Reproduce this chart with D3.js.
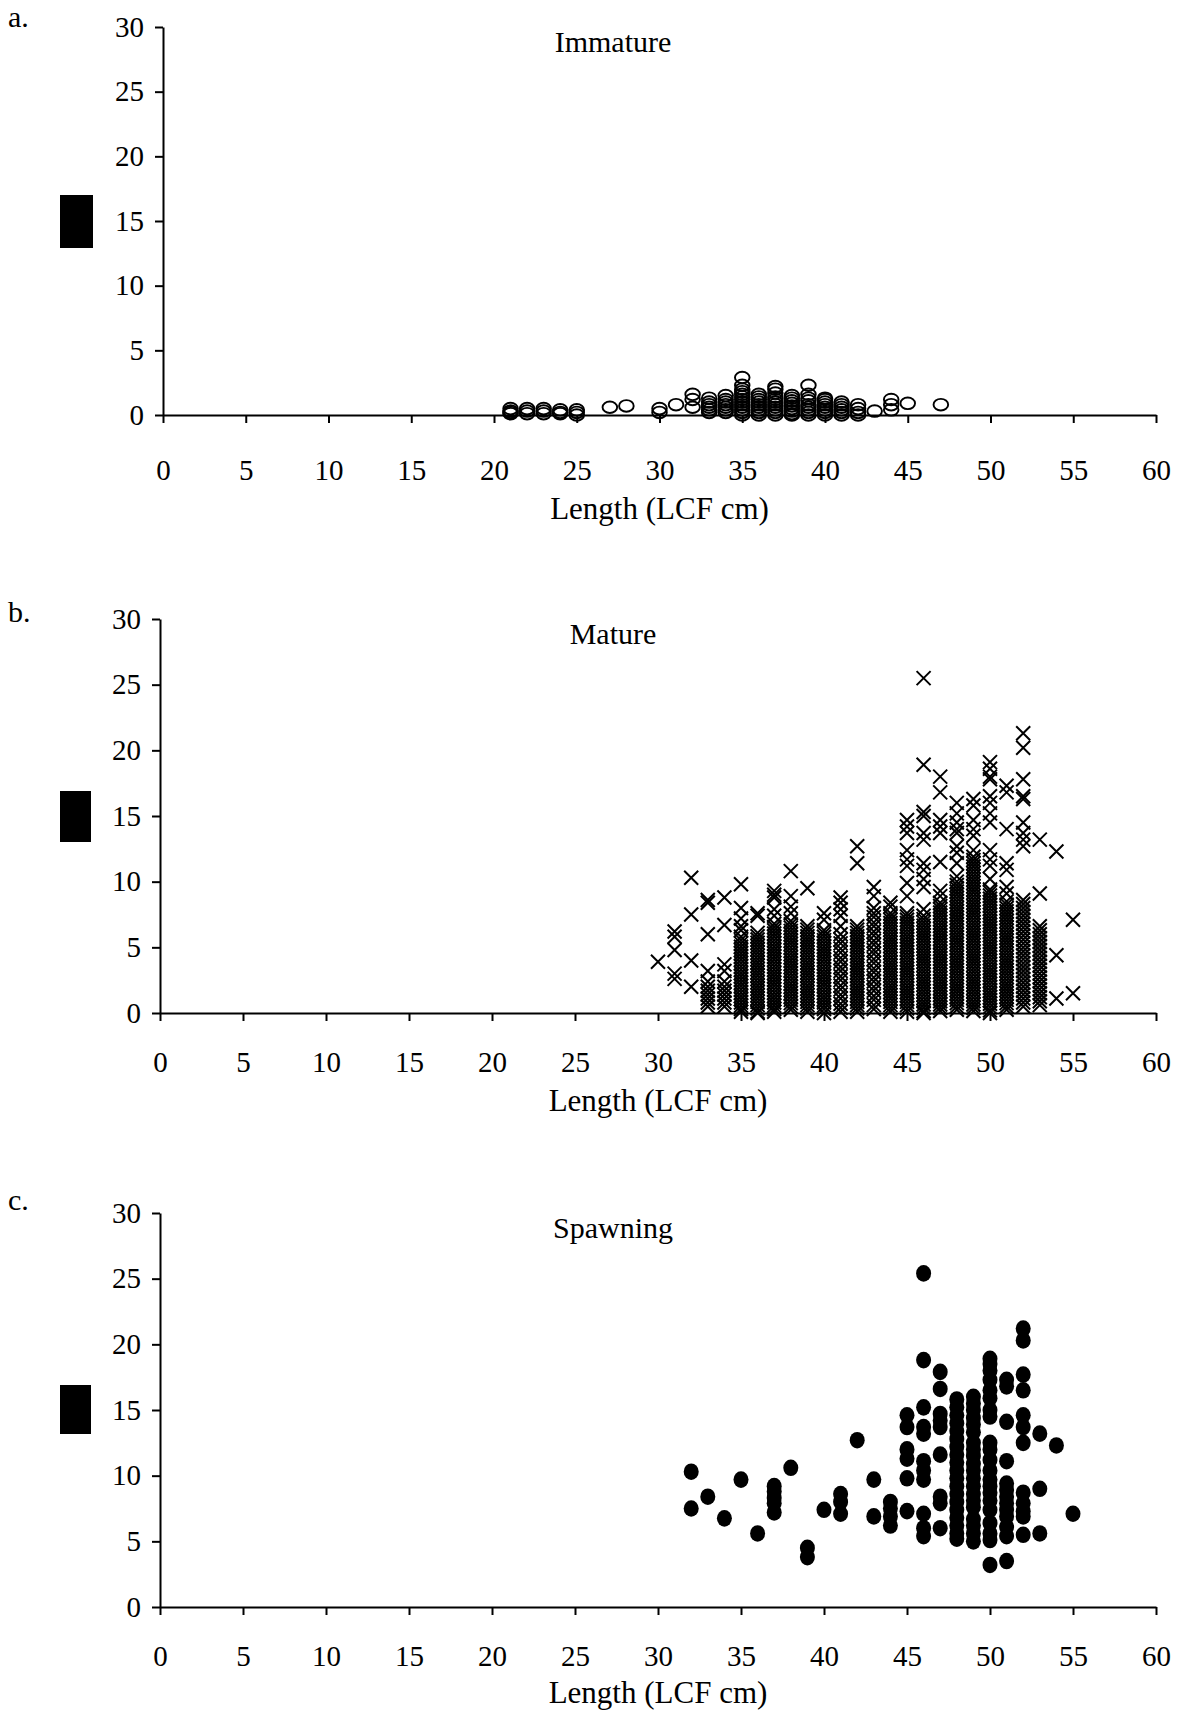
<!DOCTYPE html>
<html>
<head>
<meta charset="utf-8">
<script src="https://cdn.jsdelivr.net/npm/d3@7"></script>
<style>
  html, body { margin: 0; padding: 0; background: #fff; }
  svg { display: block; }
  text { font-family: "Liberation Serif", "Times New Roman", serif; fill: #000; }
</style>
</head>
<body>
<svg id="chart" width="1183" height="1715"></svg>
<script>
// ---------- data ----------
const xTicks = [0, 5, 10, 15, 20, 25, 30, 35, 40, 45, 50, 55, 60];
const yTicks = [0, 5, 10, 15, 20, 25, 30];
const panelLetters = ["a.", "b.", "c."];
const panelTitles = ["Immature", "Mature", "Spawning"];
const xAxisTitle = "Length (LCF cm)";

// Immature (open circles)
const immatureLengths = [21, 22, 23, 24, 25, 27, 28, 30, 31, 32, 33, 34, 35, 36, 37, 38, 39, 40, 41, 42, 43, 44, 45, 47];
const immatureValues = [
  [0.5, 0.3, 0.2, 0.1],
  [0.5, 0.3, 0.1],
  [0.5, 0.3, 0.1],
  [0.4, 0.2, 0.1],
  [0.4, 0.2, 0.0],
  [0.6],
  [0.7],
  [0.5, 0.2],
  [0.8],
  [1.6, 1.2, 0.6],
  [1.3, 1.0, 0.8, 0.6, 0.4, 0.2],
  [1.5, 1.2, 1.0, 0.8, 0.6, 0.4, 0.2],
  [2.9, 2.3, 2.0, 1.8, 1.6, 1.4, 1.2, 1.0, 0.8, 0.6, 0.4, 0.2, 0.0],
  [1.6, 1.4, 1.2, 1.0, 0.8, 0.6, 0.4, 0.2, 0.0],
  [2.2, 2.0, 1.7, 1.4, 1.2, 1.0, 0.8, 0.6, 0.4, 0.2, 0.0],
  [1.5, 1.3, 1.1, 0.9, 0.7, 0.5, 0.3, 0.1, 0.0],
  [2.3, 1.6, 1.3, 1.1, 0.8, 0.6, 0.4, 0.2, 0.0],
  [1.3, 1.2, 1.0, 0.8, 0.6, 0.4, 0.2, 0.0],
  [1.0, 0.8, 0.6, 0.4, 0.2, 0.0],
  [0.8, 0.5, 0.2, 0.0],
  [0.3],
  [1.2, 0.8, 0.4],
  [0.9],
  [0.8]
];

// Mature (crosses)
const matureLengths = [30, 31, 32, 33, 34, 35, 36, 37, 38, 39, 40, 41, 42, 43, 44, 45, 46, 47, 48, 49, 50, 51, 52, 53, 54, 55];
const matureValues = [
  [3.9],
  [6.2, 5.8, 4.8, 3.0, 2.6],
  [10.3, 7.5, 4.0, 2.0],
  [8.6, 8.4, 6.0, 3.2, 2.4, 2.0, 1.7, 1.4, 1.1, 0.8, 0.5],
  [8.8, 6.7, 3.7, 3.2, 2.4, 2.0, 1.7, 1.4, 1.1, 0.8, 0.5],
  [9.8, 8.0, 7.2, 6.6, 6.3, 5.8, 5.55, 5.3, 5.05, 4.8, 4.55, 4.3, 4.05, 3.8, 3.55, 3.3, 3.05, 2.8, 2.55, 2.3, 2.05, 1.8, 1.55, 1.3, 1.05, 0.8, 0.55, 0.3, 0.1],
  [7.6, 7.4, 6.1, 5.85, 5.6, 5.35, 5.1, 4.85, 4.6, 4.35, 4.1, 3.85, 3.6, 3.35, 3.1, 2.85, 2.6, 2.35, 2.1, 1.85, 1.6, 1.35, 1.1, 0.85, 0.6, 0.35, 0.1, 0.0],
  [9.3, 9.0, 8.8, 7.9, 7.4, 6.8, 6.55, 6.3, 6.05, 5.8, 5.55, 5.3, 5.05, 4.8, 4.55, 4.3, 4.05, 3.8, 3.55, 3.3, 3.05, 2.8, 2.55, 2.3, 2.05, 1.8, 1.55, 1.3, 1.05, 0.8, 0.55, 0.3, 0.1],
  [10.8, 8.9, 8.1, 7.6, 7.0, 6.75, 6.5, 6.25, 6.0, 5.75, 5.5, 5.25, 5.0, 4.75, 4.5, 4.25, 4.0, 3.75, 3.5, 3.25, 3.0, 2.75, 2.5, 2.25, 2.0, 1.75, 1.5, 1.25, 1.0, 0.75, 0.5, 0.25],
  [9.5, 6.6, 6.35, 6.1, 5.85, 5.6, 5.35, 5.1, 4.85, 4.6, 4.35, 4.1, 3.85, 3.6, 3.35, 3.1, 2.85, 2.6, 2.35, 2.1, 1.85, 1.6, 1.35, 1.1, 0.85, 0.6, 0.35, 0.1],
  [7.6, 7.1, 6.3, 6.05, 5.8, 5.55, 5.3, 5.05, 4.8, 4.55, 4.3, 4.05, 3.8, 3.55, 3.3, 3.05, 2.8, 2.55, 2.3, 2.05, 1.8, 1.55, 1.3, 1.05, 0.8, 0.55, 0.3, 0.0],
  [8.8, 8.4, 7.9, 7.4, 6.6, 6.0, 5.6, 5.3, 4.9, 4.6, 4.2, 3.9, 3.5, 3.2, 2.8, 2.5, 2.1, 1.8, 1.4, 1.1, 0.7, 0.4, 0.1],
  [12.7, 11.4, 6.6, 6.35, 6.1, 5.85, 5.6, 5.35, 5.1, 4.85, 4.6, 4.35, 4.1, 3.85, 3.6, 3.35, 3.1, 2.85, 2.6, 2.35, 2.1, 1.85, 1.6, 1.35, 1.1, 0.85, 0.6, 0.35, 0.1],
  [9.6, 8.9, 8.0, 7.6, 7.3, 6.9, 6.6, 6.2, 5.9, 5.5, 5.2, 4.8, 4.5, 4.1, 3.8, 3.4, 3.1, 2.7, 2.4, 2.0, 1.7, 1.3, 1.0, 0.6, 0.3],
  [8.4, 8.1, 7.6, 7.35, 7.1, 6.85, 6.6, 6.35, 6.1, 5.85, 5.6, 5.35, 5.1, 4.85, 4.6, 4.35, 4.1, 3.85, 3.6, 3.35, 3.1, 2.85, 2.6, 2.35, 2.1, 1.85, 1.6, 1.35, 1.1, 0.85, 0.6, 0.35, 0.1],
  [14.7, 14.2, 13.7, 12.4, 11.7, 11.2, 9.9, 8.9, 7.6, 7.35, 7.1, 6.85, 6.6, 6.35, 6.1, 5.85, 5.6, 5.35, 5.1, 4.85, 4.6, 4.35, 4.1, 3.85, 3.6, 3.35, 3.1, 2.85, 2.6, 2.35, 2.1, 1.85, 1.6, 1.35, 1.1, 0.85, 0.6, 0.35, 0.1],
  [25.5, 18.9, 15.3, 15.0, 13.7, 13.2, 11.4, 10.9, 10.2, 9.6, 7.9, 7.4, 7.15, 6.9, 6.65, 6.4, 6.15, 5.9, 5.65, 5.4, 5.15, 4.9, 4.65, 4.4, 4.15, 3.9, 3.65, 3.4, 3.15, 2.9, 2.65, 2.4, 2.15, 1.9, 1.65, 1.4, 1.15, 0.9, 0.65, 0.4, 0.15, 0.0],
  [18.0, 16.8, 14.7, 14.2, 13.7, 11.5, 9.3, 8.9, 8.4, 8.15, 7.9, 7.65, 7.4, 7.15, 6.9, 6.65, 6.4, 6.15, 5.9, 5.65, 5.4, 5.15, 4.9, 4.65, 4.4, 4.15, 3.9, 3.65, 3.4, 3.15, 2.9, 2.65, 2.4, 2.15, 1.9, 1.65, 1.4, 1.15, 0.9, 0.65, 0.4, 0.15],
  [16.0, 15.2, 14.5, 14.0, 13.7, 12.7, 12.2, 11.4, 10.4, 10.0, 9.75, 9.5, 9.25, 9.0, 8.75, 8.5, 8.25, 8.0, 7.75, 7.5, 7.25, 7.0, 6.75, 6.5, 6.25, 6.0, 5.75, 5.5, 5.25, 5.0, 4.75, 4.5, 4.25, 4.0, 3.75, 3.5, 3.25, 3.0, 2.75, 2.5, 2.25, 2.0, 1.75, 1.5, 1.25, 1.0, 0.75, 0.5, 0.25],
  [16.3, 15.8, 14.7, 14.0, 13.5, 12.4, 11.9, 11.65, 11.4, 11.15, 10.9, 10.65, 10.4, 10.15, 9.9, 9.65, 9.4, 9.15, 8.9, 8.65, 8.4, 8.15, 7.9, 7.65, 7.4, 7.15, 6.9, 6.65, 6.4, 6.15, 5.9, 5.65, 5.4, 5.15, 4.9, 4.65, 4.4, 4.15, 3.9, 3.65, 3.4, 3.15, 2.9, 2.65, 2.4, 2.15, 1.9, 1.65, 1.4, 1.15, 0.9, 0.65, 0.4, 0.15],
  [19.1, 18.6, 18.0, 17.8, 16.5, 16.0, 15.2, 14.5, 12.4, 11.7, 11.2, 10.2, 9.4, 9.2, 8.95, 8.7, 8.45, 8.2, 7.95, 7.7, 7.45, 7.2, 6.95, 6.7, 6.45, 6.2, 5.95, 5.7, 5.45, 5.2, 4.95, 4.7, 4.45, 4.2, 3.95, 3.7, 3.45, 3.2, 2.95, 2.7, 2.45, 2.2, 1.95, 1.7, 1.45, 1.2, 0.95, 0.7, 0.45, 0.2, 0.0],
  [17.3, 16.8, 14.0, 11.4, 10.9, 9.6, 9.1, 8.5, 8.25, 8.0, 7.75, 7.5, 7.25, 7.0, 6.75, 6.5, 6.25, 6.0, 5.75, 5.5, 5.25, 5.0, 4.75, 4.5, 4.25, 4.0, 3.75, 3.5, 3.25, 3.0, 2.75, 2.5, 2.25, 2.0, 1.75, 1.5, 1.25, 1.0, 0.75, 0.5, 0.25],
  [21.3, 20.2, 17.8, 16.5, 16.3, 14.5, 13.7, 13.2, 12.7, 8.6, 8.3, 8.0, 7.7, 7.4, 7.1, 6.8, 6.5, 6.2, 5.9, 5.6, 5.3, 5.0, 4.7, 4.4, 4.1, 3.8, 3.5, 3.2, 2.9, 2.6, 2.3, 2.0, 1.7, 1.4, 1.1, 0.8, 0.5],
  [13.2, 9.1, 6.6, 6.3, 6.0, 5.7, 5.4, 5.1, 4.8, 4.5, 4.2, 3.9, 3.6, 3.3, 3.0, 2.7, 2.4, 2.1, 1.8, 1.5, 1.2, 0.9, 0.6],
  [12.3, 4.4, 1.1],
  [7.1, 1.5]
];

// Spawning (filled dots)
const spawningLengths = [32, 33, 34, 35, 36, 37, 38, 39, 40, 41, 42, 43, 44, 45, 46, 47, 48, 49, 50, 51, 52, 53, 54, 55];
const spawningValues = [
  [10.3, 7.5],
  [8.4],
  [6.75],
  [9.7],
  [5.6],
  [9.2, 8.8, 8.3, 7.9, 7.2],
  [10.6],
  [4.5, 3.8],
  [7.4],
  [8.6, 8.0, 7.1],
  [12.7],
  [9.7, 6.9],
  [8.0, 7.5, 6.9, 6.2],
  [14.6, 13.7, 12.0, 11.3, 9.8, 7.3],
  [25.4, 18.8, 15.2, 13.7, 13.2, 11.1, 10.4, 9.7, 7.1, 6.0, 5.4],
  [17.9, 16.6, 14.7, 14.2, 13.7, 11.6, 8.4, 7.9, 6.0],
  [15.8, 15.2, 14.6, 14.0, 13.4, 12.8, 12.2, 11.6, 11.0, 10.4, 9.8, 9.2, 8.6, 8.0, 7.4, 6.8, 6.2, 5.6, 5.2],
  [16.0, 15.5, 15.0, 14.4, 13.9, 13.3, 12.5, 12.0, 11.5, 10.9, 10.4, 9.8, 9.2, 8.6, 8.1, 7.6, 6.7, 6.2, 5.6, 5.0],
  [18.9, 18.5, 18.0, 17.3, 16.5, 15.9, 15.0, 14.5, 12.5, 12.0, 11.2, 10.4, 9.7, 9.2, 8.7, 8.1, 7.4, 6.4, 5.6, 5.1, 3.2],
  [17.3, 16.8, 14.1, 11.1, 9.4, 8.9, 8.4, 7.9, 7.4, 6.9, 6.1, 5.4, 3.5],
  [21.2, 20.3, 17.7, 16.5, 14.6, 13.7, 12.5, 8.7, 7.9, 7.3, 6.9, 5.5],
  [13.2, 9.0, 5.6],
  [12.3],
  [7.1]
];

// ---------- layout ----------
const panels = [
  { lengths: immatureLengths, values: immatureValues, kind: "circle",
    x0: 163, x1: 1156, yBottom: 415, yTop: 27,
    letterY: 27, titleY: 52, tickLabelY: 64, axisTitleY: 519,
    rect: [60, 195, 33, 53] },
  { lengths: matureLengths, values: matureValues, kind: "cross",
    x0: 160, x1: 1156, yBottom: 1013, yTop: 619,
    letterY: 622, titleY: 644, tickLabelY: 58, axisTitleY: 1111,
    rect: [60, 791, 31, 51] },
  { lengths: spawningLengths, values: spawningValues, kind: "dot",
    x0: 160, x1: 1156, yBottom: 1607, yTop: 1213,
    letterY: 1210, titleY: 1238, tickLabelY: 58, axisTitleY: 1703,
    rect: [60, 1385, 31, 49] }
];

const svg = d3.select("#chart");

panels.forEach((p, i) => {
  const x = d3.scaleLinear().domain([0, 60]).range([p.x0, p.x1]);
  const y = d3.scaleLinear().domain([0, 30]).range([p.yBottom, p.yTop]);
  const g = svg.append("g");

  // panel letter
  g.append("text").attr("x", 8).attr("y", p.letterY)
    .attr("font-size", 30).text(panelLetters[i]);

  // redaction block (y-axis title area)
  g.append("rect").attr("x", p.rect[0]).attr("y", p.rect[1])
    .attr("width", p.rect[2]).attr("height", p.rect[3]).attr("fill", "#000");

  // panel title
  g.append("text").attr("x", 613).attr("y", p.titleY)
    .attr("text-anchor", "middle").attr("font-size", 30).text(panelTitles[i]);

  // axes
  const yAxis = d3.axisLeft(y).tickValues(yTicks).tickFormat(d3.format("d"))
    .tickSize(8).tickSizeOuter(0).tickPadding(11);
  const ya = g.append("g").attr("transform", `translate(${p.x0},0)`).call(yAxis);
  ya.selectAll("text").attr("font-size", 29).style("font-family", "Liberation Serif");

  const xAxis = d3.axisBottom(x).tickValues(xTicks).tickFormat(d3.format("d"))
    .tickSize(8).tickSizeOuter(0).tickPadding(p.tickLabelY - 8 - 20);
  const xa = g.append("g").attr("transform", `translate(0,${p.yBottom})`).call(xAxis);
  xa.selectAll("text").attr("font-size", 29).style("font-family", "Liberation Serif");

  [ya, xa].forEach(a => {
    a.select(".domain").attr("stroke", "#000").attr("stroke-width", 2);
    a.selectAll(".tick line").attr("stroke", "#000").attr("stroke-width", 2);
  });

  // x-axis title
  g.append("text").attr("x", (p.x0 + p.x1) / 2).attr("y", p.axisTitleY)
    .attr("text-anchor", "middle").attr("font-size", 31).text(xAxisTitle);

  // points
  const pts = p.lengths.flatMap((L, k) => p.values[k].map(v => ({ x: L, y: v })));
  const mg = g.append("g");
  if (p.kind === "circle") {
    mg.selectAll("ellipse").data(pts).join("ellipse")
      .attr("cx", d => x(d.x)).attr("cy", d => y(d.y))
      .attr("rx", 7.3).attr("ry", 5.8)
      .attr("fill", "none").attr("stroke", "#000").attr("stroke-width", 1.9);
  } else if (p.kind === "cross") {
    mg.selectAll("path").data(pts).join("path")
      .attr("transform", d => `translate(${x(d.x)},${y(d.y)})`)
      .attr("d", "M-7,-7L7,7M-7,7L7,-7")
      .attr("fill", "none").attr("stroke", "#000").attr("stroke-width", 2);
  } else {
    mg.selectAll("ellipse").data(pts).join("ellipse")
      .attr("cx", d => x(d.x)).attr("cy", d => y(d.y))
      .attr("rx", 7.5).attr("ry", 8.3)
      .attr("fill", "#000");
  }
});
</script>
</body>
</html>
